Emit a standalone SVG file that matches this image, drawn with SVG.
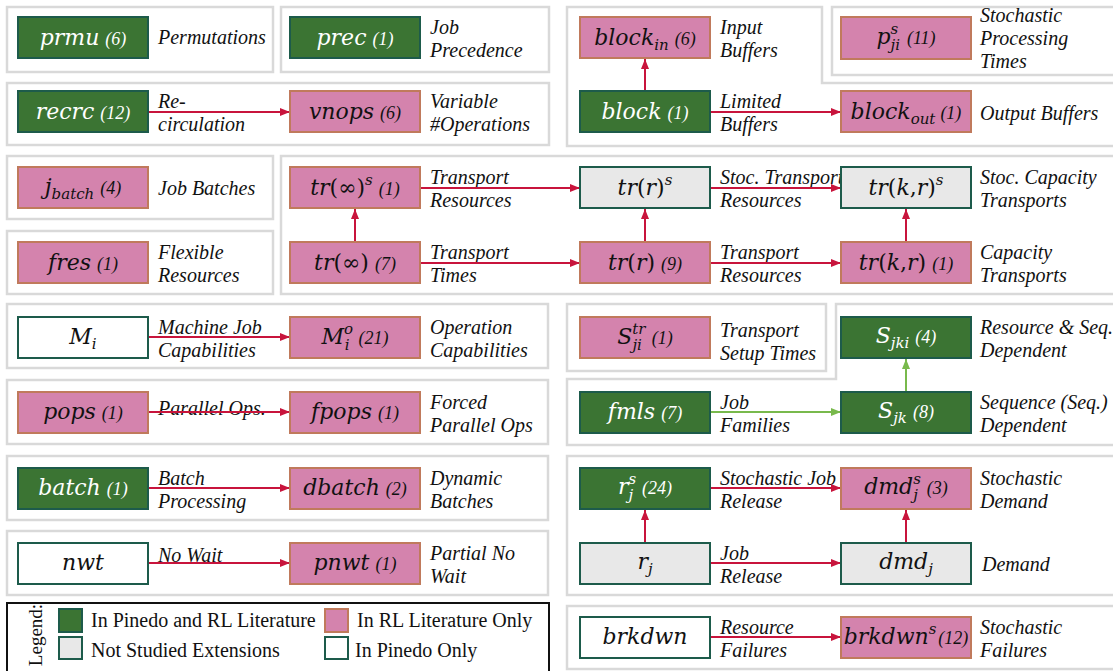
<svg xmlns="http://www.w3.org/2000/svg" width="1113" height="671" viewBox="0 0 1113 671">
<style>
  .pn{fill:#fff;stroke:#d9d9d9;stroke-width:2.5}
  .g{fill:#3b7433;stroke:#1d5b4b;stroke-width:2}
  .p{fill:#d483ad;stroke:#c07a5c;stroke-width:2}
  .x{fill:#e8e8e8;stroke:#1d5b4b;stroke-width:2}
  .w{fill:#fff;stroke:#1d5b4b;stroke-width:2}
  .m{font-family:"DejaVu Serif",serif;font-style:italic;font-size:22px;text-anchor:middle;fill:#111}
  .mw{fill:#fff}
  .s{font-size:15px}
  .u{font-style:normal}
  .c{font-family:"Liberation Serif",serif;font-size:18px}
  .d{font-family:"Liberation Serif",serif;font-style:italic;font-size:20px;fill:#111}
  .lg{font-family:"Liberation Serif",serif;font-size:20px;fill:#111}
  .e{stroke:#c8143c;stroke-width:2;fill:none;marker-end:url(#ar)}
  .eg{stroke:#78b94c;stroke-width:2;fill:none;marker-end:url(#ag)}
</style>
<defs>
  <marker id="ar" markerUnits="userSpaceOnUse" markerWidth="11" markerHeight="9" refX="10" refY="4" orient="auto">
    <path d="M0,0 L10,4 L0,8 z" fill="#c8143c"/>
  </marker>
  <marker id="ag" markerUnits="userSpaceOnUse" markerWidth="11" markerHeight="9" refX="10" refY="4" orient="auto">
    <path d="M0,0 L10,4 L0,8 z" fill="#78b94c"/>
  </marker>
</defs>
<rect width="1113" height="671" fill="#fff"/>

<!-- grouping panels -->
<g id="panels">
  <rect class="pn" x="7" y="7" width="266" height="65"/>
  <rect class="pn" x="281" y="7" width="268" height="65"/>
  <rect class="pn" x="7" y="83" width="542" height="62"/>
  <path class="pn" d="M567,7 H822 V83 H1117 V146 H567 Z"/>
  <rect class="pn" x="832" y="7" width="285" height="68"/>
  <rect class="pn" x="7" y="156" width="266" height="63"/>
  <rect class="pn" x="7" y="231" width="266" height="63"/>
  <rect class="pn" x="281" y="156" width="836" height="138"/>
  <rect class="pn" x="7" y="304" width="541" height="64"/>
  <rect class="pn" x="7" y="380" width="541" height="64"/>
  <rect class="pn" x="567" y="304" width="259" height="67"/>
  <path class="pn" d="M836,304 H1117 V445 H567 V379 H836 Z"/>
  <rect class="pn" x="7" y="456" width="541" height="64"/>
  <rect class="pn" x="7" y="531" width="541" height="64"/>
  <rect class="pn" x="567" y="456" width="550" height="139"/>
  <rect class="pn" x="567" y="606" width="550" height="63"/>
</g>

<!-- descriptive labels -->
<g id="descriptions" class="d">
  <text x="158" y="44">Permutations</text>
  <text x="430" y="34">Job</text><text x="430" y="57">Precedence</text>
  <text x="720" y="34">Input</text><text x="720" y="57">Buffers</text>
  <text x="980" y="22">Stochastic</text><text x="980" y="45">Processing</text><text x="980" y="68">Times</text>

  <text x="158" y="108">Re-</text><text x="158" y="131">circulation</text>
  <text x="430" y="108">Variable</text><text x="430" y="131">#Operations</text>
  <text x="720" y="108">Limited</text><text x="720" y="131">Buffers</text>
  <text x="980" y="120">Output Buffers</text>

  <text x="158" y="195">Job Batches</text>
  <text x="430" y="184">Transport</text><text x="430" y="207">Resources</text>
  <text x="720" y="184">Stoc. Transport</text><text x="720" y="207">Resources</text>
  <text x="980" y="184">Stoc. Capacity</text><text x="980" y="207">Transports</text>

  <text x="158" y="259">Flexible</text><text x="158" y="282">Resources</text>
  <text x="430" y="259">Transport</text><text x="430" y="282">Times</text>
  <text x="720" y="259">Transport</text><text x="720" y="282">Resources</text>
  <text x="980" y="259">Capacity</text><text x="980" y="282">Transports</text>

  <text x="158" y="334">Machine Job</text><text x="158" y="357">Capabilities</text>
  <text x="430" y="334">Operation</text><text x="430" y="357">Capabilities</text>
  <text x="720" y="337">Transport</text><text x="720" y="360">Setup Times</text>
  <text x="980" y="334">Resource &amp; Seq.</text><text x="980" y="357">Dependent</text>

  <text x="158" y="415">Parallel Ops.</text>
  <text x="430" y="409">Forced</text><text x="430" y="432">Parallel Ops</text>
  <text x="720" y="409">Job</text><text x="720" y="432">Families</text>
  <text x="980" y="409">Sequence (Seq.)</text><text x="980" y="432">Dependent</text>

  <text x="158" y="485">Batch</text><text x="158" y="508">Processing</text>
  <text x="430" y="485">Dynamic</text><text x="430" y="508">Batches</text>
  <text x="720" y="485">Stochastic Job</text><text x="720" y="508">Release</text>
  <text x="980" y="485">Stochastic</text><text x="980" y="508">Demand</text>

  <text x="158" y="562">No Wait</text>
  <text x="430" y="560">Partial No</text><text x="430" y="583">Wait</text>
  <text x="720" y="560">Job</text><text x="720" y="583">Release</text>
  <text x="982" y="571">Demand</text>

  <text x="720" y="634">Resource</text><text x="720" y="657">Failures</text>
  <text x="980" y="634">Stochastic</text><text x="980" y="657">Failures</text>
</g>

<!-- connectors -->
<g id="connectors">
  <line class="e" x1="148" y1="112" x2="290" y2="112"/>
  <line class="e" x1="645" y1="91" x2="645" y2="59"/>
  <line class="e" x1="710" y1="112" x2="841" y2="112"/>
  <line class="e" x1="420" y1="188" x2="580" y2="188"/>
  <line class="e" x1="420" y1="263" x2="580" y2="263"/>
  <line class="e" x1="355" y1="242" x2="355" y2="209"/>
  <line class="e" x1="710" y1="188" x2="841" y2="188"/>
  <line class="e" x1="710" y1="263" x2="841" y2="263"/>
  <line class="e" x1="645" y1="242" x2="645" y2="209"/>
  <line class="e" x1="906" y1="242" x2="906" y2="209"/>
  <line class="e" x1="148" y1="337" x2="290" y2="337"/>
  <line class="e" x1="148" y1="412" x2="290" y2="412"/>
  <line class="eg" x1="710" y1="412" x2="841" y2="412"/>
  <line class="eg" x1="906" y1="392" x2="906" y2="359"/>
  <line class="e" x1="148" y1="488" x2="290" y2="488"/>
  <line class="e" x1="148" y1="563" x2="290" y2="563"/>
  <line class="e" x1="710" y1="488" x2="841" y2="488"/>
  <line class="e" x1="645" y1="543" x2="645" y2="510"/>
  <line class="e" x1="710" y1="563" x2="841" y2="563"/>
  <line class="e" x1="906" y1="543" x2="906" y2="510"/>
  <line class="e" x1="710" y1="637" x2="841" y2="637"/>
</g>

<!-- nodes -->
<g id="prmu"><rect class="g" x="18" y="17" width="130" height="41"/>
  <text class="m mw" x="83" y="45">prmu<tspan class="c" dx="6">(6)</tspan></text></g>
<g id="prec"><rect class="g" x="290" y="17" width="130" height="41"/>
  <text class="m mw" x="355" y="45">prec<tspan class="c" dx="6">(1)</tspan></text></g>
<g id="block_in"><rect class="p" x="580" y="17" width="130" height="41"/>
  <text class="m" x="645" y="45">block<tspan class="s" dy="5">in</tspan><tspan class="c" dx="6" dy="-5">(6)</tspan></text></g>
<g id="p_ji_s"><rect class="p" x="841" y="17" width="130" height="42"/>
  <text class="m" x="906" y="44">p<tspan class="s" dy="-10">s</tspan><tspan class="s" dx="-7.7" dy="16">ji</tspan><tspan class="c" dx="7" dy="-6">(11)</tspan></text></g>

<g id="recrc"><rect class="g" x="18" y="91" width="130" height="41"/>
  <text class="m mw" x="83" y="119">recrc<tspan class="c" dx="6">(12)</tspan></text></g>
<g id="vnops"><rect class="p" x="290" y="91" width="130" height="41"/>
  <text class="m" x="355" y="119">vnops<tspan class="c" dx="6">(6)</tspan></text></g>
<g id="block"><rect class="g" x="580" y="91" width="130" height="41"/>
  <text class="m mw" x="645" y="119">block<tspan class="c" dx="6">(1)</tspan></text></g>
<g id="block_out"><rect class="p" x="841" y="91" width="130" height="41"/>
  <text class="m" x="906" y="119">block<tspan class="s" dy="5">out</tspan><tspan class="c" dx="5" dy="-5">(1)</tspan></text></g>

<g id="j_batch"><rect class="p" x="18" y="167" width="130" height="41"/>
  <text class="m" x="83" y="194">j<tspan class="s" dy="5">batch</tspan><tspan class="c" dx="6" dy="-5">(4)</tspan></text></g>
<g id="tr_inf_s"><rect class="p" x="290" y="167" width="130" height="41"/>
  <text class="m" x="355" y="195">tr<tspan class="u">(∞)</tspan><tspan class="s" dy="-10">s</tspan><tspan class="c" dx="6" dy="10">(1)</tspan></text></g>
<g id="tr_r_s"><rect class="x" x="580" y="167" width="130" height="41"/>
  <text class="m" x="645" y="195">tr<tspan class="u">(</tspan>r<tspan class="u">)</tspan><tspan class="s" dy="-10">s</tspan></text></g>
<g id="tr_kr_s"><rect class="x" x="841" y="167" width="130" height="41"/>
  <text class="m" x="906" y="195">tr<tspan class="u">(</tspan>k<tspan class="u">,</tspan>r<tspan class="u">)</tspan><tspan class="s" dy="-10">s</tspan></text></g>

<g id="fres"><rect class="p" x="18" y="242" width="130" height="41"/>
  <text class="m" x="83" y="270">fres<tspan class="c" dx="6">(1)</tspan></text></g>
<g id="tr_inf"><rect class="p" x="290" y="242" width="130" height="41"/>
  <text class="m" x="355" y="270">tr<tspan class="u">(∞)</tspan><tspan class="c" dx="6">(7)</tspan></text></g>
<g id="tr_r"><rect class="p" x="580" y="242" width="130" height="41"/>
  <text class="m" x="645" y="270">tr<tspan class="u">(</tspan>r<tspan class="u">)</tspan><tspan class="c" dx="6">(9)</tspan></text></g>
<g id="tr_kr"><rect class="p" x="841" y="242" width="130" height="41"/>
  <text class="m" x="906" y="270">tr<tspan class="u">(</tspan>k<tspan class="u">,</tspan>r<tspan class="u">)</tspan><tspan class="c" dx="6">(1)</tspan></text></g>

<g id="M_i"><rect class="w" x="18" y="317" width="130" height="41"/>
  <text class="m" x="83" y="344">M<tspan class="s" dy="5">i</tspan></text></g>
<g id="M_i_o"><rect class="p" x="290" y="317" width="130" height="41"/>
  <text class="m" x="355" y="344">M<tspan class="s" dy="-10">o</tspan><tspan class="s" dx="-8.5" dy="16">i</tspan><tspan class="c" dx="9" dy="-6">(21)</tspan></text></g>
<g id="S_ji_tr"><rect class="p" x="580" y="317" width="130" height="41"/>
  <text class="m" x="645" y="344">S<tspan class="s" dy="-10">tr</tspan><tspan class="s" dx="-13" dy="16">ji</tspan><tspan class="c" dx="10" dy="-6">(1)</tspan></text></g>
<g id="S_jki"><rect class="g" x="841" y="317" width="130" height="41"/>
  <text class="m mw" x="906" y="343">S<tspan class="s" dy="5">jki</tspan><tspan class="c" dx="6" dy="-5">(4)</tspan></text></g>

<g id="pops"><rect class="p" x="18" y="392" width="130" height="41"/>
  <text class="m" x="83" y="419">pops<tspan class="c" dx="6">(1)</tspan></text></g>
<g id="fpops"><rect class="p" x="290" y="392" width="130" height="41"/>
  <text class="m" x="355" y="419">fpops<tspan class="c" dx="6">(1)</tspan></text></g>
<g id="fmls"><rect class="g" x="580" y="392" width="130" height="41"/>
  <text class="m mw" x="645" y="419">fmls<tspan class="c" dx="6">(7)</tspan></text></g>
<g id="S_jk"><rect class="g" x="841" y="392" width="130" height="41"/>
  <text class="m mw" x="906" y="418">S<tspan class="s" dy="5">jk</tspan><tspan class="c" dx="6" dy="-5">(8)</tspan></text></g>

<g id="batch"><rect class="g" x="18" y="468" width="130" height="41"/>
  <text class="m mw" x="83" y="495">batch<tspan class="c" dx="6">(1)</tspan></text></g>
<g id="dbatch"><rect class="p" x="290" y="468" width="130" height="41"/>
  <text class="m" x="355" y="495">dbatch<tspan class="c" dx="6">(2)</tspan></text></g>
<g id="r_j_s"><rect class="g" x="580" y="468" width="130" height="41"/>
  <text class="m mw" x="645" y="494">r<tspan class="s" dy="-10">s</tspan><tspan class="s" dx="-7.7" dy="16">j</tspan><tspan class="c" dx="9" dy="-6">(24)</tspan></text></g>
<g id="dmd_j_s"><rect class="p" x="841" y="468" width="130" height="41"/>
  <text class="m" x="906" y="494">dmd<tspan class="s" dy="-10">s</tspan><tspan class="s" dx="-7.7" dy="16">j</tspan><tspan class="c" dx="9" dy="-6">(3)</tspan></text></g>

<g id="nwt"><rect class="w" x="18" y="543" width="130" height="41"/>
  <text class="m" x="83" y="570">nwt</text></g>
<g id="pnwt"><rect class="p" x="290" y="543" width="130" height="41"/>
  <text class="m" x="355" y="570">pnwt<tspan class="c" dx="6">(1)</tspan></text></g>
<g id="r_j"><rect class="x" x="580" y="543" width="130" height="41"/>
  <text class="m" x="645" y="569">r<tspan class="s" dy="5">j</tspan></text></g>
<g id="dmd_j"><rect class="x" x="841" y="543" width="130" height="41"/>
  <text class="m" x="906" y="569">dmd<tspan class="s" dy="5">j</tspan></text></g>

<g id="brkdwn"><rect class="w" x="580" y="617" width="130" height="41"/>
  <text class="m" x="645" y="644">brkdwn</text></g>
<g id="brkdwn_s"><rect class="p" x="841" y="617" width="130" height="41"/>
  <text class="m" x="906" y="644">brkdwn<tspan class="s" dy="-10">s</tspan><tspan class="c" dx="2" dy="10">(12)</tspan></text></g>

<!-- legend -->
<g id="legend">
  <rect x="7" y="603" width="542" height="70" fill="#fff" stroke="#111" stroke-width="2"/>
  <text class="lg" transform="translate(42,635) rotate(-90)" text-anchor="middle" style="font-size:19px">Legend:</text>
  <rect class="g" x="59" y="609" width="23" height="23"/>
  <text class="lg" x="91" y="627">In Pinedo and RL Literature</text>
  <rect class="p" x="325" y="609" width="23" height="23"/>
  <text class="lg" x="357" y="627">In RL Literature Only</text>
  <rect class="x" x="59" y="637" width="23" height="22"/>
  <text class="lg" x="91" y="657">Not Studied Extensions</text>
  <rect class="w" x="325" y="637" width="23" height="22"/>
  <text class="lg" x="355" y="657">In Pinedo Only</text>
</g>
</svg>
